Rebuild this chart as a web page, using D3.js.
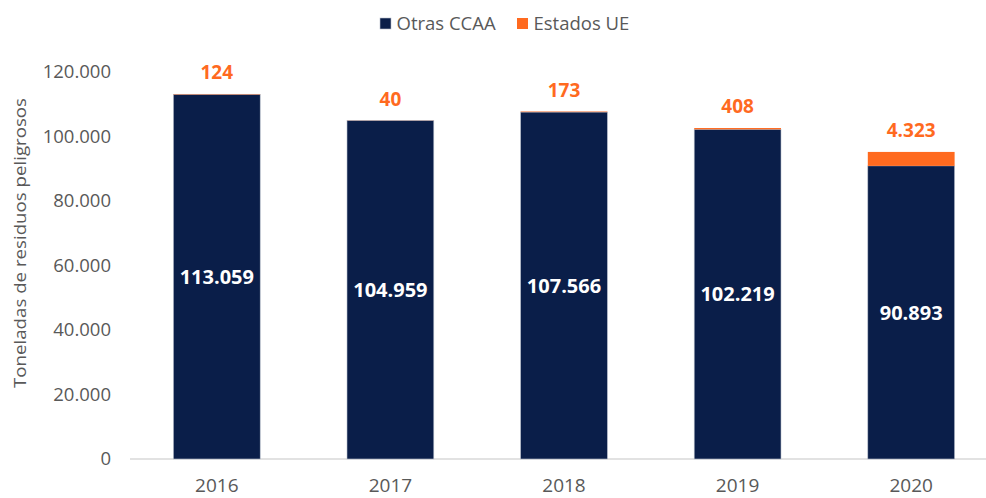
<!DOCTYPE html>
<html>
<head>
<meta charset="utf-8">
<script src="https://cdn.jsdelivr.net/npm/d3@7/dist/d3.min.js"></script>
<style>
  html, body { margin: 0; padding: 0; background: #fff; }
  svg { display: block; font-family: "Open Sans", "Noto Sans", sans-serif; }
</style>
</head>
<body>
<svg id="chart" width="986" height="498"></svg>
<script>
const years = ["2016", "2017", "2018", "2019", "2020"];
const otrasCCAA = [113059, 104959, 107566, 102219, 90893];
const estadosUE = [124, 40, 173, 408, 4323];
const seriesNames = ["Otras CCAA", "Estados UE"];
const seriesColors = ["#0A1E49", "#FF6A1F"];
const yTicks = [0, 20000, 40000, 60000, 80000, 100000, 120000];
const yTitle = "Toneladas de residuos peligrosos";

const fmt = v => d3.format(",")(v).replace(/,/g, ".");

const svg = d3.select("#chart");
const x = d3.scaleBand().domain(years).range([130, 998]).paddingInner(0.5).paddingOuter(0.25);
const y = d3.scaleLinear().domain([0, 120000]).range([459, 72]);

const rows = years.map((yr, i) => ({ year: yr, otras: otrasCCAA[i], ue: estadosUE[i] }));
const stack = d3.stack().keys(["otras", "ue"])(rows);

// y axis labels
const yAxis = d3.axisLeft(y).tickValues(yTicks).tickFormat(fmt).tickSize(0).tickPadding(0);
const gy = svg.append("g").attr("transform", "translate(111,0)").call(yAxis);
gy.select(".domain").remove();
gy.selectAll("text").attr("fill", "#595959").style("font-size", "18.5px").style("font-family", "'Open Sans', sans-serif");

// x axis
const xAxis = d3.axisBottom(x).tickSize(0).tickPadding(20);
const gx = svg.append("g").attr("transform", "translate(0,459)").call(xAxis);
gx.select(".domain").attr("stroke", "#D9D9D9").attr("stroke-width", 1.5).attr("d", "M130,0H986");
gx.selectAll("text").attr("fill", "#595959").style("font-size", "19px").style("font-family", "'Open Sans', sans-serif");

// bars
stack.forEach((layer, li) => {
  svg.append("g").selectAll("rect").data(layer).join("rect")
    .attr("x", d => x(d.data.year))
    .attr("width", x.bandwidth())
    .attr("y", d => y(d[1]))
    .attr("height", d => y(d[0]) - y(d[1]))
    .attr("fill", seriesColors[li])
    .attr("stroke", li === 0 ? "#B8BFCC" : "none")
    .attr("stroke-width", 0.6);
});

// inner labels
svg.append("g").selectAll("text").data(stack[0]).join("text")
  .attr("x", d => x(d.data.year) + x.bandwidth() / 2)
  .attr("y", d => (y(d[0]) + y(d[1])) / 2)
  .attr("dy", "0.36em")
  .attr("text-anchor", "middle")
  .attr("fill", "#fff")
  .style("font-weight", "bold")
  .style("font-size", "20px")
  .text(d => fmt(d.data.otras));

// top labels
svg.append("g").selectAll("text").data(stack[1]).join("text")
  .attr("x", d => x(d.data.year) + x.bandwidth() / 2)
  .attr("y", d => y(d[1]) - 21.5)
  .attr("dy", "0.36em")
  .attr("text-anchor", "middle")
  .attr("fill", seriesColors[1])
  .style("font-weight", "bold")
  .style("font-size", "19px")
  .text(d => fmt(d.data.ue));

// y title
svg.append("text")
  .attr("transform", "translate(20,243) rotate(-90)")
  .attr("text-anchor", "middle")
  .attr("dy", "0.35em")
  .attr("fill", "#595959")
  .style("font-size", "16.5px")
  .attr("textLength", 290)
  .attr("lengthAdjust", "spacingAndGlyphs")
  .text(yTitle);

// legend
const legendX = [380, 517];
const lg = svg.append("g");
seriesNames.forEach((n, i) => {
  lg.append("rect").attr("x", legendX[i]).attr("y", 18).attr("width", 11).attr("height", 11)
    .attr("fill", seriesColors[i]).attr("stroke", i === 0 ? "#B8BFCC" : "none").attr("stroke-width", 0.6);
  lg.append("text").attr("x", legendX[i] + 16.5).attr("y", 23.5).attr("dy", "0.35em")
    .attr("fill", "#595959").style("font-size", "18.5px").text(n);
});
</script>
</body>
</html>
